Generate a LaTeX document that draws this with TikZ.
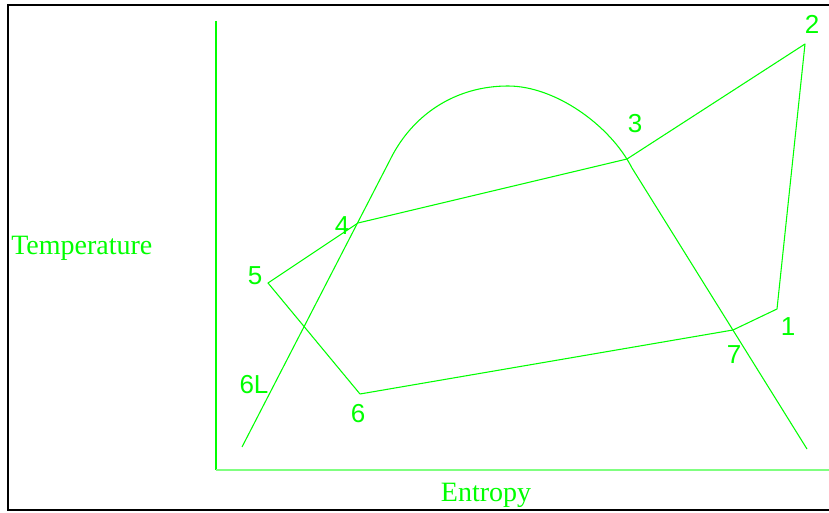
\documentclass[tikz,border=0pt]{standalone}
\usepackage{fontspec}
\newfontfamily\numfont{Liberation Sans}
\newfontfamily\labfont{Liberation Serif}
\definecolor{lg}{HTML}{00FF00}
\definecolor{axg}{HTML}{80FF80}
\begin{document}
\begin{tikzpicture}[x=0.75pt,y=-0.75pt,
  curve/.style={draw=lg, line width=0.8pt, line join=round},
  num/.style={text=lg, font=\numfont\fontsize{19.5}{20}\selectfont, inner sep=0pt},
  axlab/.style={text=lg, font=\labfont\fontsize{21}{22}\selectfont, inner sep=0pt}]
\useasboundingbox (0,0) rectangle (829,513);
% frame
\coordinate (ftr) at (829,5);
\coordinate (ftl) at (8,5);
\coordinate (fbl) at (8,510);
\coordinate (fbr) at (829,510);
\draw[black, line width=1.6pt] (ftr) -- (ftl) -- (fbl) -- (fbr);
% axes
\coordinate (ytop) at (216,21);
\coordinate (orig) at (216,470.5);
\coordinate (xend) at (829,470.5);
\draw[lg, line width=0.8pt] (ytop) -- (orig);
\draw[axg, line width=1.5pt] (orig) -- (xend);
\node[axlab, anchor=base west] (tlab) at (11,255) {Temperature};
\node[axlab, anchor=base] (elab) at (486,502) {Entropy};
% saturation dome
\coordinate (dl) at (242,447);
\coordinate (da) at (390,160);
\coordinate (dt) at (508,86);
\coordinate (db) at (632,168);
\coordinate (dr) at (807,449);
\draw[curve] (dl) -- (da) .. controls (412,115) and (455,86) .. (dt)
  .. controls (555,86) and (610,125) .. (db) -- (dr);
% cycle
\coordinate (p1) at (777,309);
\coordinate (p2) at (805,44);
\coordinate (p3) at (627,159);
\coordinate (p4) at (358,223);
\coordinate (p5) at (268,283);
\coordinate (p6) at (360,394);
\coordinate (p7) at (733,330);
\draw[curve] (p1) -- (p2) -- (p3) -- (p4) -- (p5) -- (p6) -- (p7) -- cycle;
% labels
\node[num] (l1) at (788,327) {1};
\node[num] (l2) at (812,24) {2};
\node[num] (l3) at (635,124) {3};
\node[num] (l4) at (342,226) {4};
\node[num] (l5) at (255,276) {5};
\node[num] (l6) at (358,414) {6};
\node[num] (l7) at (734,355) {7};
\node[num] (l6L) at (254,385) {6L};
\end{tikzpicture}
\end{document}
